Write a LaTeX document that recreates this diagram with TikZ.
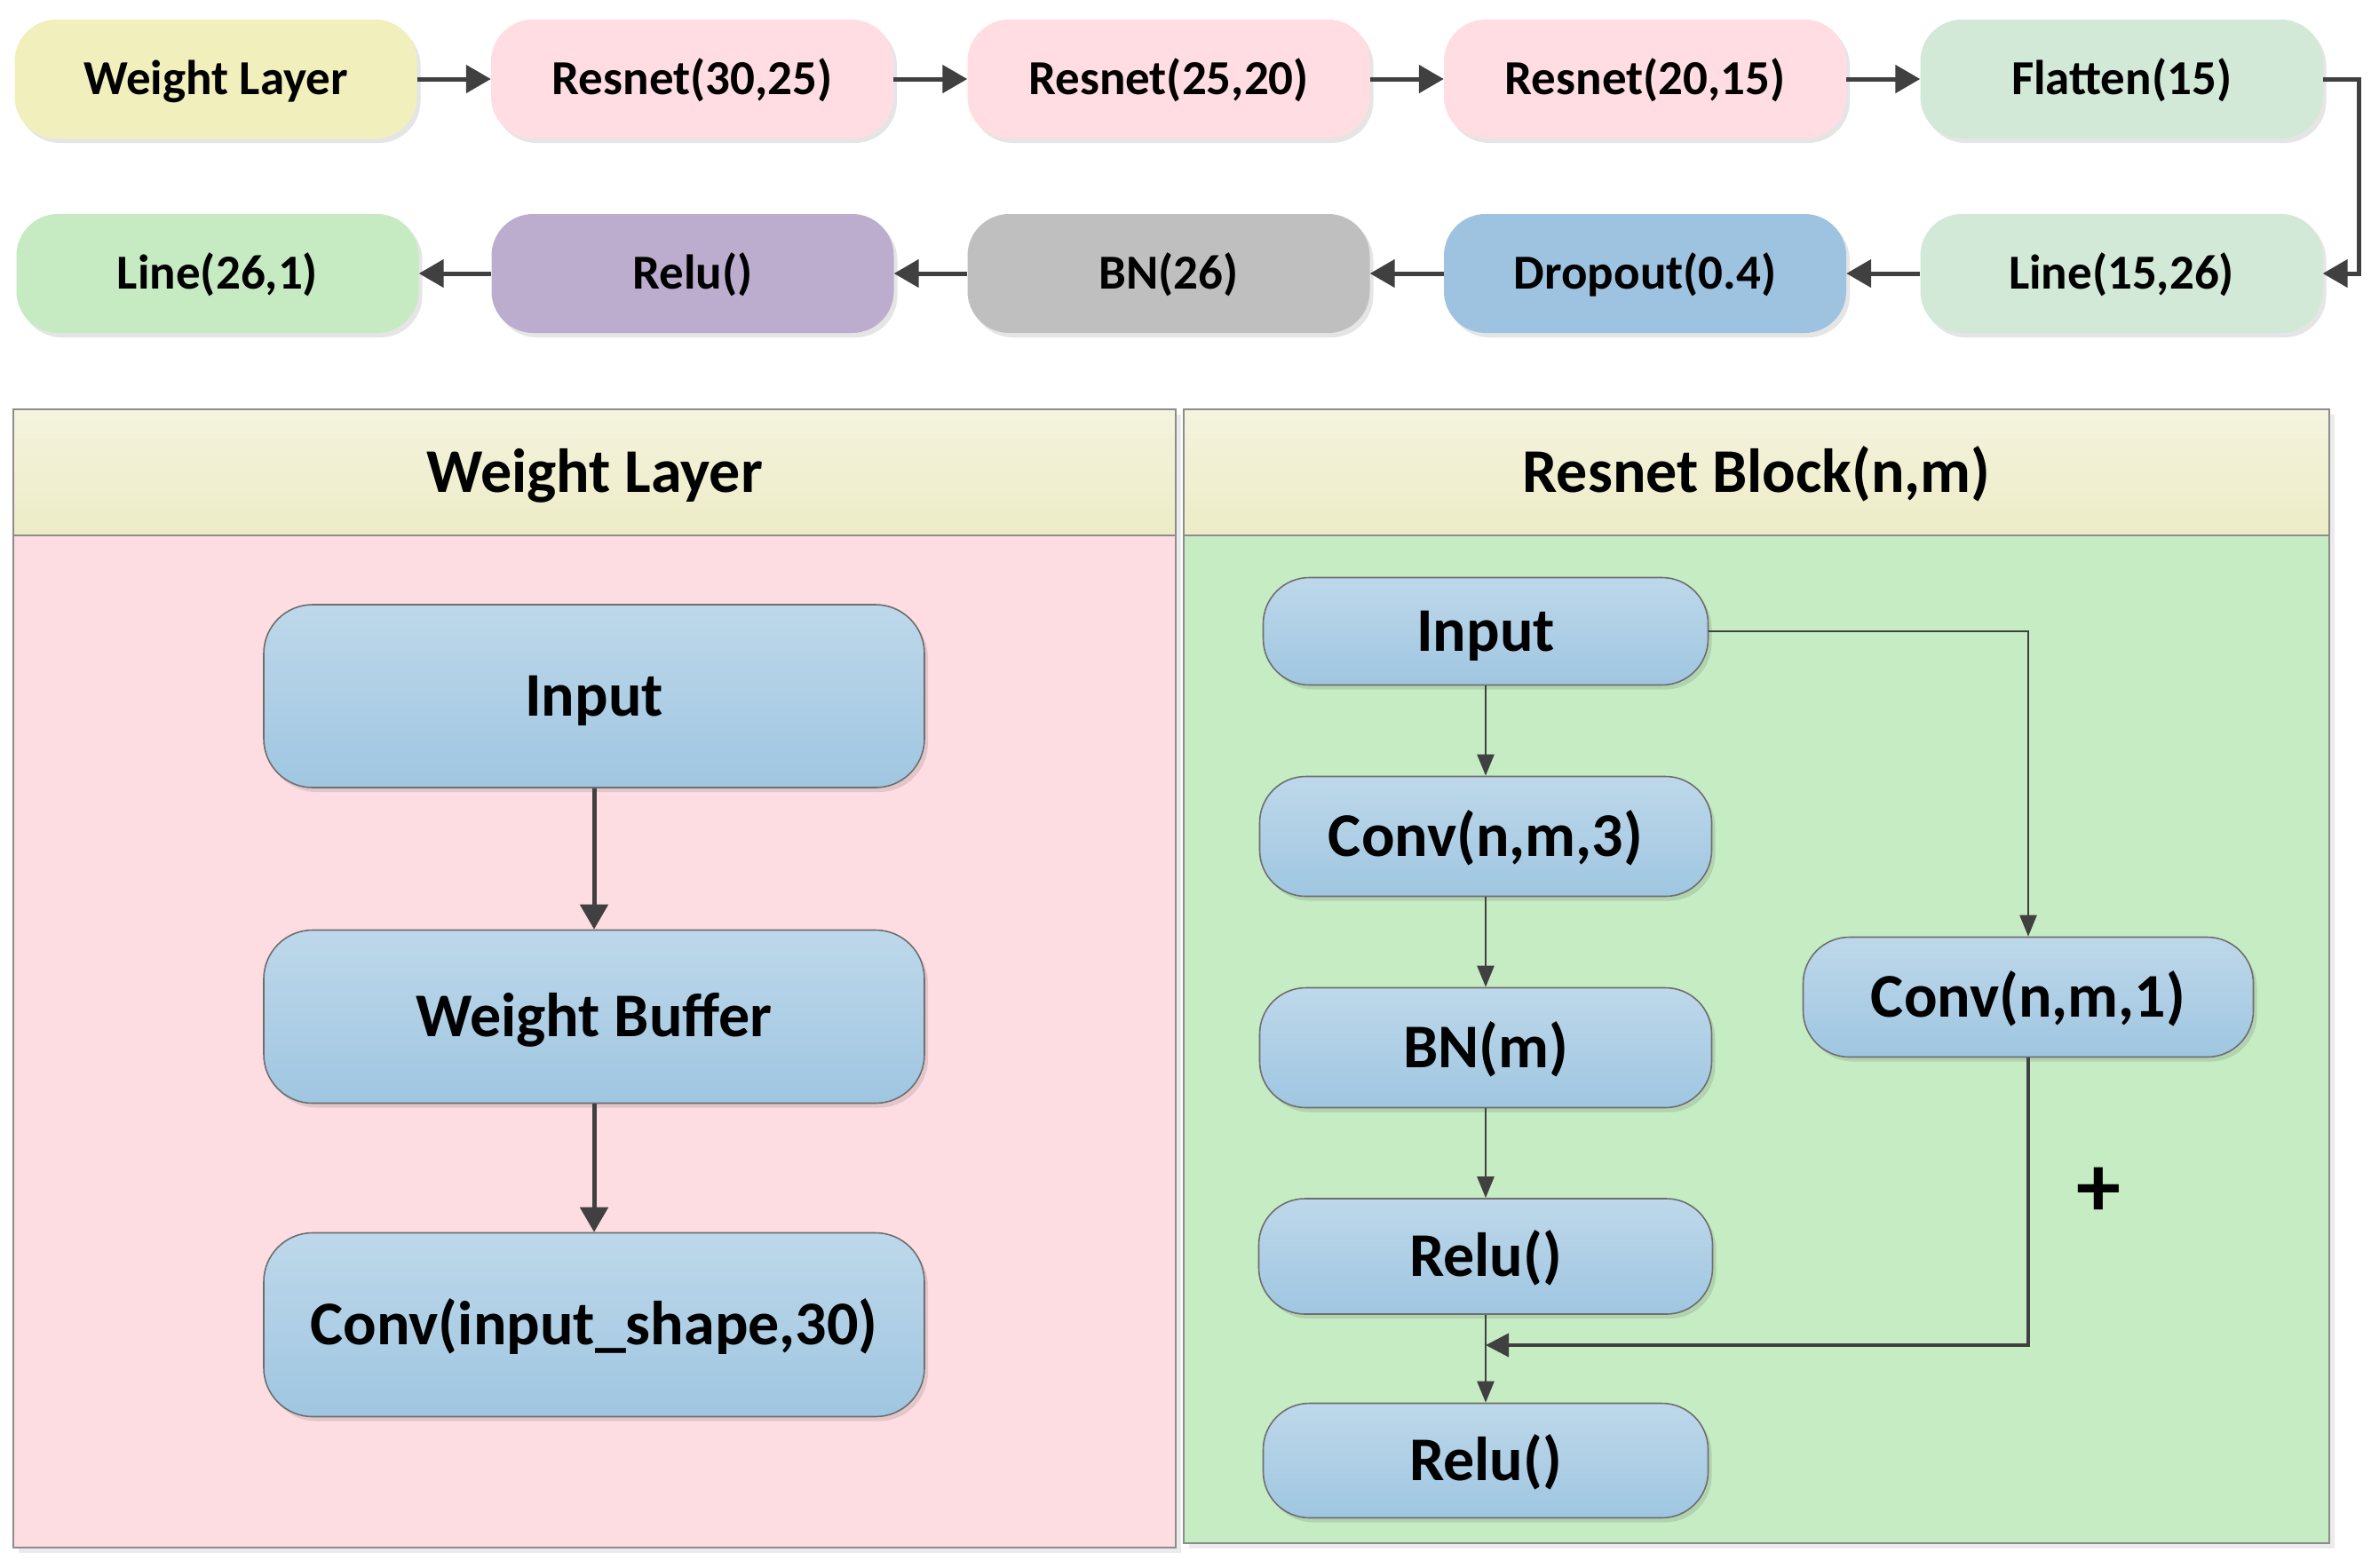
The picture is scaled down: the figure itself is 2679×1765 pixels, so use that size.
\documentclass[tikz,border=0pt]{standalone}
\usepackage{fontspec}
\setmainfont{Carlito}
\usetikzlibrary{arrows.meta,shadows}
\definecolor{wlyellow}{RGB}{241,240,189}
\definecolor{rpink}{RGB}{255,221,226}
\definecolor{flatgreen}{RGB}{209,233,214}
\definecolor{linegreen}{RGB}{198,235,195}
\definecolor{relupurple}{RGB}{188,173,207}
\definecolor{bngray}{RGB}{191,191,191}
\definecolor{dropblue}{RGB}{157,195,224}
\definecolor{panelpink}{RGB}{253,221,225}
\definecolor{panelgreen}{RGB}{198,236,196}
\definecolor{headtop}{RGB}{244,243,222}
\definecolor{headbot}{RGB}{237,236,198}
\definecolor{bluetop}{RGB}{190,216,234}
\definecolor{bluebot}{RGB}{159,198,225}
\definecolor{arrcol}{RGB}{64,64,64}
\definecolor{borderc}{RGB}{140,140,140}
\definecolor{boxline}{RGB}{110,110,110}
\begin{document}
\begin{tikzpicture}[x=1pt,y=-1pt,
  shadowed/.style={drop shadow={shadow xshift=4pt,shadow yshift=-5pt,fill=black,opacity=0.10}},
  txtbig/.style={text height=57pt,text depth=13pt},
  txtsmall/.style={text height=45pt,text depth=10pt},
  topbox/.style={rounded corners=47pt,minimum width=453pt,minimum height=134pt,inner sep=0pt,
    font=\fontsize{55}{66}\selectfont\bfseries,txtsmall,shadowed},
  bluebox/.style={rounded corners=52pt,draw=boxline,line width=1.6pt,top color=bluetop,bottom color=bluebot,
    inner sep=0pt,font=\fontsize{70}{84}\selectfont\bfseries,txtbig,shadowed},
  panelhead/.style={draw=borderc,line width=2pt,top color=headtop,bottom color=headbot},
  panelbody/.style={draw=borderc,line width=2pt},
  titletext/.style={font=\fontsize{70}{84}\selectfont\bfseries,inner sep=0pt,txtbig},
  thickarr/.style={draw=arrcol,line width=5pt,-{Triangle[length=28pt,width=31pt]}},
  thinarr/.style={draw=arrcol,line width=2.5pt,-{Triangle[length=24pt,width=19pt]}},
  midarr/.style={draw=arrcol,line width=4pt,-{Triangle[length=26pt,width=26pt]}}
]
\useasboundingbox (0,0) rectangle (2679,1765);
\fill[white] (0,0) rectangle (2679,1765);

% ---- top row ----
\node[topbox,fill=wlyellow] (wl) at (243,89) {Weight Layer};
\node[topbox,fill=rpink] (r1) at (779.5,89) {Resnet(30,25)};
\node[topbox,fill=rpink] (r2) at (1316,89) {Resnet(25,20)};
\node[topbox,fill=rpink] (r3) at (1852.5,89) {Resnet(20,15)};
\node[topbox,fill=flatgreen] (fl) at (2389,89) {Flatten(15)};
% ---- second row ----
\node[topbox,fill=linegreen] (l2) at (245,308) {Line(26,1)};
\node[topbox,fill=relupurple] (ru) at (780,308) {Relu()};
\node[topbox,fill=bngray] (bn) at (1316,308) {BN(26)};
\node[topbox,fill=dropblue] (dp) at (1852.5,308) {Dropout(0.4)};
\node[topbox,fill=flatgreen] (l1) at (2389,308) {Line(15,26)};

\draw[thickarr] (wl.east) -- (r1.west);
\draw[thickarr] (r1.east) -- (r2.west);
\draw[thickarr] (r2.east) -- (r3.west);
\draw[thickarr] (r3.east) -- (fl.west);
\coordinate (turn) at (2656,89);
\draw[thickarr] (fl.east) -- (turn) |- (l1.east);
\draw[thickarr] (l1.west) -- (dp.east);
\draw[thickarr] (dp.west) -- (bn.east);
\draw[thickarr] (bn.west) -- (ru.east);
\draw[thickarr] (ru.west) -- (l2.east);

% ---- left panel ----
\fill[black,opacity=0.08] (21,467) rectangle (1330,1749);
\path[panelbody,fill=panelpink] (15,603) rectangle (1324,1743);
\path[panelhead] (15,461) rectangle (1324,603);
\node[titletext] (wlt) at (669.5,532) {Weight Layer};

\node[bluebox,minimum width=744pt,minimum height=206pt,rounded corners=55pt] (in1) at (669,784) {Input};
\node[bluebox,minimum width=744pt,minimum height=195pt,rounded corners=55pt] (wb) at (669,1145) {Weight Buffer};
\node[bluebox,minimum width=744pt,minimum height=207pt,rounded corners=55pt] (cv) at (669,1492) {Conv(input\_shape,30)};
\draw[thickarr] (in1.south) -- (wb.north);
\draw[thickarr] (wb.south) -- (cv.north);

% ---- right panel ----
\fill[black,opacity=0.08] (1339,467) rectangle (2629,1744);
\path[panelbody,fill=panelgreen] (1333,603) rectangle (2623,1738);
\path[panelhead] (1333,461) rectangle (2623,603);
\node[titletext] (rbt) at (1978,532) {Resnet Block(n,m)};

\node[bluebox,minimum width=501pt,minimum height=121pt] (rin) at (1673,711) {Input};
\node[bluebox,minimum width=509pt,minimum height=135pt] (c3) at (1673,942) {Conv(n,m,3)};
\node[bluebox,minimum width=509pt,minimum height=135pt] (bm) at (1673,1180) {BN(m)};
\node[bluebox,minimum width=511pt,minimum height=130pt] (rl1) at (1673,1415) {Relu()};
\node[bluebox,minimum width=501pt,minimum height=129pt] (rl2) at (1673,1645) {Relu()};
\node[bluebox,minimum width=507pt,minimum height=135pt] (c1) at (2284,1123) {Conv(n,m,1)};
\node[font=\fontsize{100}{120}\selectfont\bfseries,inner sep=0pt] (plus) at (2363,1343) {+};

\draw[thinarr] (rin.south) -- (c3.north);
\draw[thinarr] (c3.south) -- (bm.north);
\draw[thinarr] (bm.south) -- (rl1.north);
\draw[thinarr] (rl1.south) -- (rl2.north);
\draw[thinarr] (rin.east) -| (c1.north);
\coordinate (join) at (1673,1515);
\draw[midarr] (c1.south) |- (join);
\end{tikzpicture}
\end{document}
